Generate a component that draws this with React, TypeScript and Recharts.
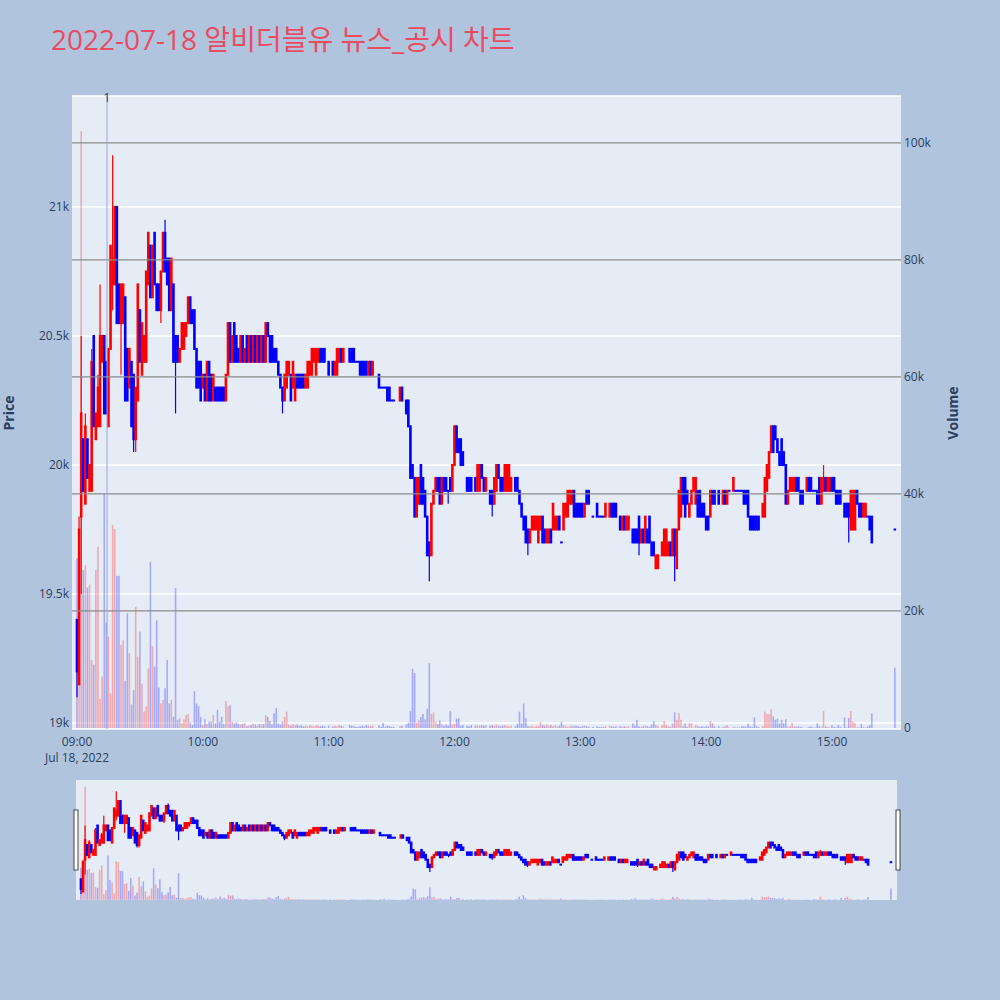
import React from 'react';
import { ComposedChart, Bar, XAxis, YAxis, CartesianGrid, ReferenceLine } from 'recharts';

// minutes after 09:00 for every traded 1-minute candle
const minutes = [
  0, 1, 2, 3, 4, 5, 6, 7, 8, 9,
  10, 11, 12, 13, 14, 15, 16, 17, 18, 19,
  20, 21, 22, 23, 24, 25, 26, 27, 28, 29,
  30, 31, 32, 33, 34, 35, 36, 37, 38, 39,
  40, 41, 42, 43, 44, 45, 46, 47, 48, 49,
  50, 51, 52, 53, 54, 55, 56, 57, 58, 59,
  60, 61, 62, 63, 64, 65, 66, 67, 68, 69,
  70, 71, 72, 73, 74, 75, 76, 77, 78, 79,
  80, 81, 82, 83, 84, 85, 86, 87, 88, 89,
  90, 91, 92, 93, 94, 95, 96, 97, 98, 99,
  100, 101, 102, 103, 104, 105, 106, 107, 108, 109,
  110, 111, 112, 113, 114, 115, 116, 117, 118, 120,
  122, 123, 124, 125, 126, 127, 130, 131, 132, 133,
  134, 135, 136, 137, 138, 139, 140, 141, 144, 145,
  146, 147, 148, 149, 150, 151, 154, 155, 157, 158,
  159, 160, 161, 162, 163, 164, 165, 166, 167, 168,
  169, 170, 171, 172, 173, 174, 175, 176, 177, 178,
  179, 180, 181, 182, 183, 184, 186, 187, 188, 190,
  191, 192, 193, 194, 195, 197, 198, 199, 200, 201,
  202, 203, 204, 205, 206, 207, 209, 210, 211, 212,
  213, 214, 215, 216, 217, 218, 219, 220, 221, 222,
  223, 224, 225, 226, 227, 228, 229, 230, 231, 232,
  233, 234, 235, 236, 237, 238, 239, 240, 241, 242,
  243, 244, 246, 248, 249, 250, 251, 252, 254, 255,
  256, 257, 259, 260, 261, 262, 263, 265, 266, 267,
  268, 269, 270, 271, 272, 273, 274, 275, 276, 277,
  279, 280, 281, 282, 283, 284, 285, 286, 287, 288,
  289, 290, 291, 292, 293, 294, 295, 296, 297, 298,
  299, 300, 301, 302, 303, 304, 306, 308, 309, 310,
  311, 313, 314, 315, 316, 317, 318, 319, 320, 321,
  322, 323, 324, 325, 327, 328, 329, 330, 331, 332,
  333, 334, 335, 336, 337, 338, 339, 340, 341, 342,
  343, 344, 345, 346, 348, 349, 350, 351, 352, 353,
  354, 355, 356, 357, 358, 359, 360, 361, 362, 363,
  364, 366, 367, 368, 369, 370, 371, 372, 373, 374,
  375, 376, 377, 378, 379, 390,
];

const opens = [
  19400, 19150, 19800, 20100, 19850, 20100, 19900, 19900, 20500, 20100,
  20150, 20150, 20400, 20500, 20400, 20150, 20450, 20700, 20700, 21000,
  20700, 20550, 20550, 20650, 20450, 20300, 20400, 20350, 20100, 20250,
  20600, 20350, 20400, 20400, 20700, 20850, 20650, 20900, 20700, 20700,
  20600, 20750, 20900, 20800, 20800, 20600, 20700, 20500, 20500, 20400,
  20450, 20450, 20500, 20550, 20650, 20600, 20600, 20450, 20400, 20400,
  20300, 20350, 20250, 20400, 20350, 20250, 20300, 20300, 20300, 20300,
  20300, 20250, 20350, 20550, 20400, 20550, 20500, 20450, 20400, 20500,
  20400, 20500, 20400, 20500, 20400, 20500, 20400, 20500, 20400, 20500,
  20400, 20550, 20500, 20500, 20450, 20450, 20400, 20350, 20300, 20250,
  20300, 20350, 20350, 20300, 20250, 20350, 20350, 20350, 20350, 20300,
  20300, 20350, 20350, 20400, 20350, 20400, 20450, 20450, 20450, 20400,
  20400, 20350, 20350, 20400, 20450, 20400, 20450, 20450, 20450, 20400,
  20400, 20400, 20400, 20400, 20400, 20350, 20400, 20350, 20350, 20300,
  20300, 20300, 20300, 20300, 20250, 20250, 20250, 20300, 20250, 20250,
  20150, 20000, 19950, 19800, 19850, 20000, 19950, 19900, 19800, 19700,
  19650, 19850, 19900, 19950, 19950, 19850, 19950, 19950, 19900, 19950,
  19900, 20000, 20150, 20100, 20100, 20050, 19950, 19950, 19950, 19950,
  19900, 19900, 20000, 19950, 19900, 19900, 19900, 19850, 19900, 20000,
  19950, 19950, 19900, 19900, 19900, 19900, 19950, 19950, 19900, 19850,
  19800, 19800, 19750, 19700, 19750, 19750, 19750, 19700, 19750, 19800,
  19750, 19700, 19700, 19750, 19750, 19750, 19750, 19800, 19700, 19750,
  19800, 19800, 19850, 19850, 19900, 19850, 19850, 19850, 19850, 19800,
  19900, 19900, 19800, 19850, 19800, 19800, 19800, 19800, 19800, 19850,
  19850, 19850, 19800, 19750, 19800, 19750, 19750, 19750, 19750, 19750,
  19800, 19700, 19750, 19700, 19750, 19800, 19700, 19700, 19600, 19600,
  19650, 19650, 19650, 19650, 19700, 19650, 19750, 19600, 19750, 19800,
  19950, 19950, 19900, 19800, 19850, 19900, 19850, 19900, 19900, 19850,
  19850, 19800, 19800, 19800, 19900, 19900, 19900, 19850, 19900, 19850,
  19900, 19900, 19900, 19900, 19900, 19900, 19900, 19900, 19900, 19800,
  19800, 19800, 19800, 19800, 19800, 19800, 19900, 19950, 20050, 20150,
  20150, 20100, 20050, 20100, 20050, 20000, 19850, 19900, 19900, 19900,
  19950, 19950, 19900, 19900, 19900, 19950, 19950, 19900, 19900, 19900,
  19950, 19850, 19900, 19950, 19900, 19900, 19950, 19950, 19900, 19900,
  19900, 19850, 19850, 19850, 19750, 19750, 19750, 19900, 19850, 19850,
  19800, 19800, 19800, 19800, 19800, 19750,
];

const highs = [
  19400, 19800, 20500, 20100, 20200, 20100, 20000, 20450, 20500, 20200,
  20350, 20700, 20500, 20500, 20400, 20450, 20850, 21200, 21000, 21000,
  20700, 20700, 20700, 20650, 20450, 20450, 20400, 20350, 20300, 20700,
  20600, 20550, 20500, 20750, 20900, 20850, 20850, 20900, 20700, 20700,
  20750, 20900, 20950, 20800, 20800, 20800, 20700, 20500, 20500, 20450,
  20550, 20550, 20550, 20650, 20650, 20600, 20600, 20450, 20400, 20400,
  20350, 20350, 20400, 20400, 20350, 20350, 20300, 20300, 20300, 20300,
  20300, 20350, 20550, 20550, 20500, 20550, 20500, 20450, 20500, 20500,
  20450, 20500, 20500, 20500, 20500, 20500, 20500, 20500, 20500, 20500,
  20550, 20550, 20500, 20500, 20450, 20450, 20400, 20350, 20300, 20350,
  20400, 20400, 20350, 20400, 20350, 20350, 20350, 20350, 20350, 20350,
  20400, 20400, 20450, 20450, 20450, 20450, 20450, 20450, 20450, 20400,
  20400, 20400, 20450, 20450, 20450, 20450, 20450, 20450, 20450, 20400,
  20400, 20400, 20400, 20400, 20400, 20400, 20400, 20400, 20350, 20300,
  20300, 20300, 20300, 20300, 20250, 20250, 20300, 20300, 20250, 20250,
  20150, 20000, 19950, 19950, 19950, 20000, 19950, 19900, 19800, 19700,
  19850, 19900, 19950, 19950, 19950, 19950, 19950, 19950, 19900, 19950,
  20000, 20150, 20150, 20100, 20100, 20050, 19950, 19950, 19950, 19950,
  20000, 20000, 20000, 19950, 19950, 19900, 19900, 19950, 20000, 20000,
  19950, 19950, 20000, 20000, 20000, 19950, 19950, 19950, 19900, 19850,
  19800, 19800, 19750, 19750, 19800, 19800, 19800, 19800, 19800, 19800,
  19750, 19750, 19750, 19750, 19850, 19800, 19800, 19800, 19700, 19850,
  19850, 19900, 19900, 19900, 19900, 19850, 19850, 19850, 19850, 19850,
  19900, 19900, 19800, 19850, 19800, 19800, 19800, 19850, 19850, 19850,
  19850, 19850, 19800, 19800, 19800, 19800, 19800, 19750, 19750, 19750,
  19800, 19750, 19750, 19800, 19750, 19800, 19700, 19700, 19650, 19650,
  19700, 19750, 19750, 19700, 19700, 19750, 19750, 19750, 19900, 19950,
  19950, 19950, 19900, 19850, 19900, 19950, 19950, 19900, 19900, 19850,
  19850, 19800, 19800, 19900, 19900, 19900, 19900, 19900, 19900, 19900,
  19900, 19950, 19900, 19900, 19900, 19900, 19900, 19900, 19900, 19800,
  19800, 19800, 19800, 19800, 19850, 19950, 20000, 20050, 20150, 20150,
  20150, 20100, 20050, 20100, 20050, 20000, 19900, 19950, 19950, 19950,
  19950, 19950, 19900, 19900, 19950, 19950, 19950, 19900, 19900, 19900,
  19950, 19950, 20000, 19950, 19950, 19950, 19950, 19950, 19900, 19900,
  19900, 19850, 19850, 19850, 19900, 19900, 19900, 19900, 19850, 19850,
  19850, 19850, 19800, 19800, 19800, 19750,
];

const lows = [
  19100, 19150, 19500, 19900, 19850, 19950, 19900, 19900, 20150, 20100,
  20150, 20150, 20400, 20200, 20200, 20150, 20450, 20600, 20700, 20550,
  20550, 20350, 20550, 20250, 20250, 20300, 20150, 20050, 20050, 20250,
  20400, 20350, 20400, 20400, 20700, 20650, 20650, 20700, 20600, 20600,
  20550, 20750, 20750, 20700, 20600, 20600, 20400, 20200, 20400, 20400,
  20450, 20450, 20500, 20550, 20550, 20550, 20450, 20300, 20300, 20250,
  20300, 20250, 20250, 20250, 20250, 20250, 20250, 20250, 20250, 20250,
  20250, 20250, 20350, 20400, 20400, 20400, 20400, 20400, 20400, 20400,
  20400, 20400, 20400, 20400, 20400, 20400, 20400, 20400, 20400, 20400,
  20400, 20500, 20400, 20400, 20400, 20400, 20350, 20300, 20200, 20250,
  20300, 20350, 20250, 20300, 20250, 20300, 20300, 20300, 20300, 20300,
  20300, 20350, 20350, 20400, 20350, 20400, 20400, 20400, 20400, 20350,
  20350, 20350, 20350, 20400, 20400, 20400, 20400, 20400, 20400, 20400,
  20400, 20350, 20350, 20350, 20350, 20350, 20350, 20350, 20300, 20300,
  20300, 20300, 20250, 20250, 20250, 20250, 20250, 20250, 20200, 20150,
  19950, 19950, 19800, 19800, 19850, 19850, 19850, 19800, 19650, 19550,
  19650, 19850, 19900, 19900, 19850, 19850, 19900, 19900, 19850, 19900,
  19900, 20000, 20050, 20050, 20000, 20000, 19900, 19900, 19900, 19900,
  19900, 19900, 19950, 19900, 19900, 19850, 19800, 19850, 19900, 19950,
  19900, 19900, 19900, 19900, 19900, 19900, 19900, 19900, 19850, 19800,
  19750, 19700, 19650, 19700, 19750, 19750, 19750, 19700, 19750, 19700,
  19700, 19700, 19700, 19700, 19750, 19750, 19750, 19750, 19700, 19750,
  19800, 19800, 19850, 19850, 19800, 19800, 19800, 19800, 19800, 19800,
  19850, 19850, 19800, 19800, 19800, 19800, 19800, 19800, 19800, 19800,
  19800, 19800, 19750, 19750, 19750, 19750, 19750, 19700, 19700, 19700,
  19650, 19700, 19700, 19700, 19700, 19700, 19650, 19650, 19600, 19600,
  19650, 19650, 19650, 19650, 19650, 19650, 19550, 19600, 19750, 19800,
  19850, 19800, 19850, 19800, 19850, 19900, 19850, 19800, 19800, 19800,
  19800, 19750, 19750, 19800, 19850, 19850, 19850, 19850, 19850, 19850,
  19900, 19900, 19900, 19900, 19900, 19900, 19850, 19850, 19800, 19750,
  19750, 19750, 19750, 19750, 19800, 19800, 19900, 19950, 20050, 20050,
  20100, 20050, 20000, 20000, 20000, 19850, 19850, 19900, 19900, 19900,
  19900, 19900, 19850, 19850, 19900, 19900, 19900, 19900, 19900, 19850,
  19850, 19850, 19900, 19900, 19900, 19900, 19900, 19900, 19850, 19850,
  19850, 19800, 19800, 19700, 19750, 19750, 19750, 19850, 19800, 19800,
  19800, 19800, 19800, 19750, 19700, 19750,
];

const closes = [
  19200, 19750, 20200, 19900, 20150, 19950, 20000, 20400, 20150, 20200,
  20300, 20500, 20500, 20200, 20200, 20450, 20850, 20800, 21000, 20550,
  20550, 20700, 20700, 20250, 20250, 20450, 20150, 20100, 20300, 20700,
  20400, 20550, 20500, 20750, 20900, 20650, 20850, 20700, 20600, 20600,
  20750, 20900, 20750, 20700, 20600, 20800, 20400, 20400, 20400, 20450,
  20550, 20550, 20550, 20650, 20550, 20550, 20450, 20300, 20300, 20250,
  20350, 20250, 20400, 20250, 20250, 20350, 20250, 20250, 20250, 20250,
  20250, 20350, 20550, 20400, 20500, 20400, 20400, 20400, 20500, 20400,
  20450, 20400, 20500, 20400, 20500, 20400, 20500, 20400, 20500, 20400,
  20550, 20500, 20400, 20400, 20400, 20400, 20350, 20300, 20250, 20350,
  20400, 20400, 20250, 20400, 20350, 20300, 20300, 20300, 20300, 20350,
  20400, 20400, 20450, 20450, 20450, 20450, 20400, 20400, 20400, 20350,
  20350, 20400, 20450, 20450, 20400, 20450, 20400, 20400, 20400, 20400,
  20400, 20350, 20350, 20350, 20350, 20400, 20350, 20400, 20300, 20300,
  20300, 20300, 20250, 20250, 20250, 20250, 20300, 20250, 20200, 20150,
  19950, 19950, 19800, 19950, 19950, 19850, 19850, 19800, 19650, 19650,
  19850, 19900, 19950, 19900, 19850, 19950, 19900, 19900, 19900, 19900,
  20000, 20150, 20050, 20050, 20000, 20000, 19900, 19900, 19900, 19900,
  20000, 20000, 19950, 19900, 19950, 19850, 19850, 19950, 20000, 19950,
  19900, 19900, 20000, 20000, 20000, 19950, 19900, 19900, 19850, 19800,
  19750, 19700, 19700, 19750, 19800, 19800, 19800, 19800, 19800, 19700,
  19700, 19750, 19750, 19700, 19850, 19800, 19800, 19750, 19700, 19850,
  19850, 19900, 19900, 19900, 19800, 19800, 19800, 19800, 19800, 19850,
  19850, 19850, 19800, 19800, 19800, 19800, 19800, 19850, 19850, 19800,
  19800, 19800, 19750, 19800, 19750, 19800, 19800, 19700, 19700, 19700,
  19700, 19750, 19700, 19800, 19700, 19700, 19650, 19650, 19650, 19650,
  19700, 19750, 19750, 19700, 19650, 19750, 19650, 19750, 19900, 19950,
  19850, 19800, 19850, 19850, 19900, 19950, 19950, 19800, 19800, 19800,
  19800, 19750, 19750, 19900, 19850, 19850, 19850, 19900, 19850, 19900,
  19900, 19950, 19900, 19900, 19900, 19900, 19850, 19850, 19800, 19750,
  19750, 19750, 19750, 19750, 19850, 19950, 20000, 20050, 20150, 20050,
  20100, 20050, 20000, 20000, 20000, 19850, 19900, 19950, 19950, 19950,
  19900, 19900, 19850, 19850, 19950, 19900, 19900, 19900, 19900, 19850,
  19850, 19950, 19950, 19900, 19950, 19950, 19900, 19900, 19850, 19850,
  19850, 19800, 19800, 19800, 19900, 19900, 19900, 19850, 19800, 19800,
  19850, 19850, 19800, 19750, 19700, 19750,
];

const volumes = [
  29000, 20000, 102000, 27000, 27800, 24000, 24500, 11600, 10800, 27000,
  31000, 5000, 8800, 40000, 18000, 15600, 5900, 34700, 34000, 26000,
  26000, 14200, 15000, 8000, 19600, 12800, 4000, 6500, 20700, 12200,
  16500, 7600, 2800, 3700, 10200, 28400, 14000, 10500, 18400, 6900,
  4200, 4800, 6800, 11600, 4200, 4800, 1900, 23900, 1400, 1700,
  800, 1500, 2200, 2400, 1000, 500, 6300, 4200, 3700, 1900,
  500, 1500, 700, 1100, 1100, 2200, 800, 3100, 1100, 1900,
  700, 4600, 3700, 3900, 1100, 800, 1000, 700, 600, 700,
  800, 300, 400, 500, 800, 600, 400, 700, 600, 700,
  2200, 1900, 1200, 600, 2500, 3400, 800, 600, 1100, 1900,
  2800, 600, 400, 700, 500, 600, 400, 500, 300, 400,
  300, 500, 400, 300, 500, 400, 300, 400, 300, 400,
  300, 400, 300, 500, 400, 300, 500, 400, 300, 200,
  200, 300, 400, 300, 500, 400, 300, 400, 500, 200,
  900, 200, 400, 300, 200, 200, 300, 400, 600, 900,
  2900, 10100, 9400, 900, 1300, 1900, 2400, 1500, 3300, 11100,
  2400, 2700, 1100, 700, 1300, 600, 400, 600, 400, 2900,
  600, 700, 1600, 1700, 400, 500, 400, 300, 500, 400,
  500, 400, 500, 400, 500, 400, 500, 400, 600, 400,
  300, 400, 500, 400, 300, 400, 300, 700, 2800, 800,
  4200, 1700, 300, 300, 400, 200, 300, 400, 1000, 500,
  400, 600, 400, 500, 300, 500, 300, 400, 1100, 500,
  400, 200, 300, 400, 300, 400, 300, 200, 300, 400,
  300, 200, 200, 300, 200, 200, 200, 300, 400, 300,
  200, 300, 300, 200, 300, 200, 300, 800, 400, 1400,
  300, 200, 300, 400, 300, 200, 600, 1200, 500, 300,
  500, 1200, 500, 300, 200, 800, 2700, 1400, 2600, 1400,
  300, 800, 200, 800, 800, 100, 500, 300, 200, 300,
  200, 300, 200, 1200, 800, 300, 300, 200, 300, 500,
  100, 200, 100, 100, 100, 300, 300, 200, 700, 300,
  200, 1800, 300, 200, 300, 2800, 2400, 2400, 3200, 2000,
  1400, 1600, 800, 1400, 800, 1500, 200, 300, 900, 300,
  200, 300, 200, 100, 100, 200, 300, 100, 100, 800,
  300, 200, 2900, 300, 200, 100, 500, 200, 100, 500,
  200, 1800, 100, 1700, 2900, 1100, 800, 100, 100, 700,
  200, 100, 300, 500, 2500, 10300,
];

const xTicks = [0, 60, 120, 180, 240, 300, 360];
const xTickLabels = ['09:00', '10:00', '11:00', '12:00', '13:00', '14:00', '15:00'];
const sessionDate = 'Jul 18, 2022';
const priceTicks = [19000, 19500, 20000, 20500, 21000];
const volumeTicks = [0, 20000, 40000, 60000, 80000, 100000];
const newsMinutes = [14.3];
const newsLabels = ['1'];

const RED = '#ff0000';
const BLUE = '#0000ff';
const INK = '#2a3f5f';
const FONT = '"Open Sans", verdana, arial, sans-serif';
const X_DOMAIN = [-2.4, 392.9];
const PRICE_DOMAIN = [18977, 21430];
const VOLUME_DOMAIN = [-170, 108000];

const data = minutes.map((m, i) => ({
  minute: m,
  open: opens[i],
  high: highs[i],
  low: lows[i],
  close: closes[i],
  volume: volumes[i],
}));

const candleRange = (d) => [d.low, d.high];
const colorOf = (d) => (d.close > d.open ? RED : BLUE);

// wick from the bar's [low, high] box, body placed inside it proportionally
const Candle = (props) => {
  const { x, y, width, height } = props;
  const d = props.payload ?? props;
  if (x == null || y == null) return null;
  const color = colorOf(d);
  const span = d.high - d.low;
  const k = span > 0 ? height / span : 0;
  const top = y + (d.high - Math.max(d.open, d.close)) * k;
  const bot = y + (d.high - Math.min(d.open, d.close)) * k;
  const cx = x + width / 2;
  return (
    <g>
      <line x1={cx} x2={cx} y1={y} y2={y + height} stroke={color} strokeWidth={1.2} />
      <rect x={x - 0.3} y={top - 1} width={width + 0.6} height={bot - top + 2} fill={color} />
    </g>
  );
};

const VolumeBar = (props) => {
  const { x, y, width, height } = props;
  const d = props.payload ?? props;
  if (x == null || y == null || !(height > 0)) return null;
  return <rect x={x + 0.2} y={y} width={width - 0.4} height={height} fill={colorOf(d)} fillOpacity={0.28} />;
};

const kFormat = (v) => (v === 0 ? '0' : `${v / 1000}k`);

const XTick = (props) => {
  const { x, y, payload } = props;
  const i = xTicks.indexOf(payload.value);
  return (
    <g>
      <text x={x} y={y + 17} textAnchor="middle" fontSize={12} fill={INK} fontFamily={FONT}>
        {xTickLabels[i]}
      </text>
      {i === 0 && (
        <text x={x} y={y + 33} textAnchor="middle" fontSize={12} fill={INK} fontFamily={FONT}>
          {sessionDate}
        </text>
      )}
    </g>
  );
};

const NewsLabel = (props) => {
  const vb = props.viewBox || {};
  return (
    <text x={vb.x} y={vb.y + 5.5} textAnchor="middle" fontSize={12} fill={INK} fontFamily={FONT}>
      {props.value}
    </text>
  );
};

const tickStyle = { fontSize: 12, fill: INK, fontFamily: FONT };

export default function App() {
  return (
    <div style={{ position: 'absolute', left: 0, top: 0, width: 1000, height: 1000, background: '#b0c4de' }}>
      <div style={{ position: 'absolute', left: 0, top: 0 }}>
        <ComposedChart width={1000} height={780} data={data} margin={{ top: 96, right: 39, bottom: 21, left: 12 }}>
          <CartesianGrid xAxisId="p" yAxisId="p" vertical={false} stroke="#ffffff" strokeWidth={1.5} fill="#e5ecf6" fillOpacity={1} />
          <XAxis
            xAxisId="p"
            dataKey="minute"
            type="number"
            domain={X_DOMAIN}
            allowDataOverflow
            ticks={xTicks}
            interval={0}
            tick={<XTick />}
            tickLine={false}
            axisLine={false}
            tickSize={0}
            tickMargin={0}
            height={30}
          />
          <XAxis xAxisId="v" dataKey="minute" type="number" domain={X_DOMAIN} allowDataOverflow hide />
          <YAxis
            yAxisId="p"
            orientation="left"
            domain={PRICE_DOMAIN}
            allowDataOverflow
            ticks={priceTicks}
            interval={0}
            tickFormatter={kFormat}
            width={60}
            axisLine={false}
            tickLine={false}
            tickSize={0}
            tickMargin={3}
            tick={tickStyle}
          />
          <YAxis
            yAxisId="v"
            orientation="right"
            domain={VOLUME_DOMAIN}
            allowDataOverflow
            ticks={volumeTicks}
            interval={0}
            tickFormatter={kFormat}
            width={60}
            axisLine={false}
            tickLine={false}
            tickSize={0}
            tickMargin={3}
            tick={tickStyle}
          />
          {volumeTicks.slice(1).map((v) => (
            <ReferenceLine key={v} xAxisId="v" yAxisId="v" y={v} stroke="#8c8c8c" strokeWidth={1.2} />
          ))}
          <Bar xAxisId="v" yAxisId="v" dataKey="volume" barSize={2} shape={<VolumeBar />} isAnimationActive={false} />
          {newsMinutes.map((m, i) => (
            <ReferenceLine
              key={m}
              xAxisId="p"
              yAxisId="p"
              x={m}
              stroke="#97a5e2"
              strokeWidth={1}
              label={<NewsLabel value={newsLabels[i]} />}
            />
          ))}
          <Bar xAxisId="p" yAxisId="p" dataKey={candleRange} barSize={2} shape={<Candle />} isAnimationActive={false} />
        </ComposedChart>
      </div>

      <div style={{ position: 'absolute', left: 76, top: 780, width: 821, height: 120, background: '#e5ecf6' }}>
        <ComposedChart width={821} height={120} data={data} margin={{ top: 0, right: 0, bottom: 0, left: 0 }}>
          <XAxis xAxisId="p" dataKey="minute" type="number" domain={X_DOMAIN} allowDataOverflow hide />
          <XAxis xAxisId="v" dataKey="minute" type="number" domain={X_DOMAIN} allowDataOverflow hide />
          <YAxis yAxisId="p" domain={PRICE_DOMAIN} allowDataOverflow hide />
          <YAxis yAxisId="v" domain={VOLUME_DOMAIN} allowDataOverflow hide />
          <Bar xAxisId="v" yAxisId="v" dataKey="volume" barSize={2} shape={<VolumeBar />} isAnimationActive={false} />
          <Bar xAxisId="p" yAxisId="p" dataKey={candleRange} barSize={2} shape={<Candle />} isAnimationActive={false} />
        </ComposedChart>
      </div>

      <svg width={1000} height={1000} style={{ position: 'absolute', left: 0, top: 0, pointerEvents: 'none' }}>
        <text x={51} y={50} fontSize={28} fill="#e94c61" fontFamily={'"Open Sans", "Noto Sans CJK KR", sans-serif'}>
          2022-07-18 알비더블유 뉴스_공시 차트
        </text>
        <text transform="translate(14,413) rotate(-90)" textAnchor="middle" fontSize={14} fontWeight="bold" fill={INK} fontFamily={FONT}>
          Price
        </text>
        <text transform="translate(958,413) rotate(-90)" textAnchor="middle" fontSize={14} fontWeight="bold" fill={INK} fontFamily={FONT}>
          Volume
        </text>
        <rect x={74} y={810} width={4} height={60} fill="#ffffff" stroke="#444" strokeWidth={1} />
        <rect x={896} y={810} width={4} height={60} fill="#ffffff" stroke="#444" strokeWidth={1} />
      </svg>
    </div>
  );
}
